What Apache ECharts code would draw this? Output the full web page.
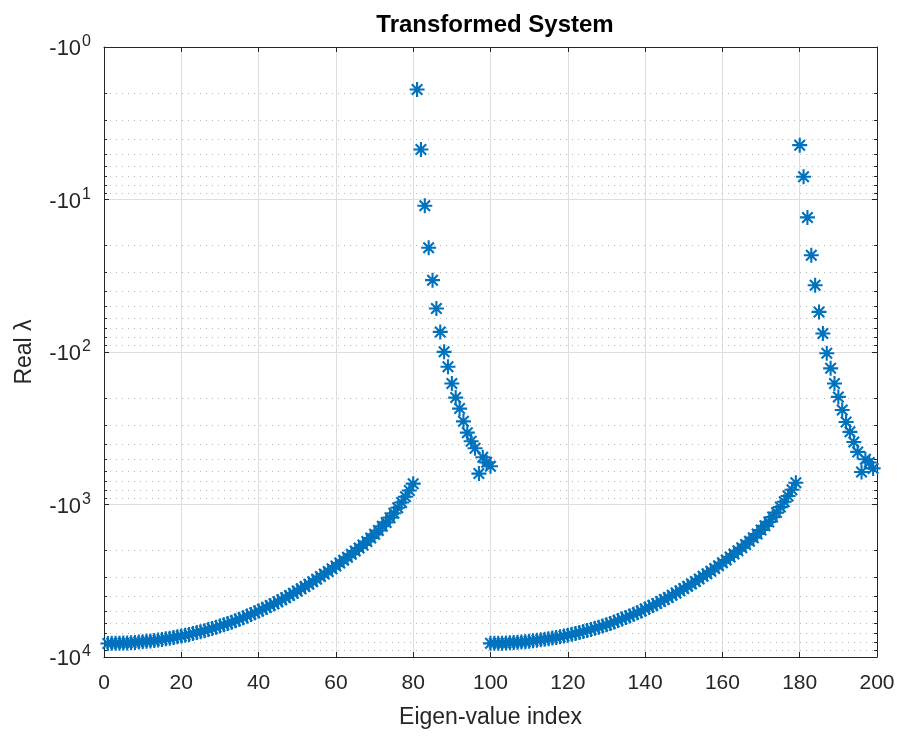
<!DOCTYPE html>
<html>
<head>
<meta charset="utf-8">
<title>Transformed System</title>
<script src="https://cdn.jsdelivr.net/npm/echarts@6/dist/echarts.min.js"></script>
<style>
  html, body { margin: 0; padding: 0; background: #ffffff; }
  #chart { width: 901px; height: 741px; }
</style>
</head>
<body>
<div id="chart"></div>
<script>
// Magnitudes |Re(lambda)| of the eigenvalues, in four index blocks.
const lowAStart = 1;
const lowA = [
  8150, 8140, 8130, 8120, 8100, 8080, 8050, 8020, 7980, 7940,
  7890, 7840, 7790, 7730, 7670, 7600, 7530, 7450, 7370, 7290,
  7200, 7110, 7020, 6920, 6820, 6720, 6610, 6500, 6390, 6270,
  6150, 6030, 5910, 5780, 5650, 5520, 5390, 5260, 5130, 5000,
  4860, 4730, 4600, 4470, 4340, 4210, 4080, 3950, 3820, 3690,
  3570, 3450, 3330, 3210, 3090, 2970, 2860, 2750, 2640, 2530,
  2420, 2320, 2220, 2120, 2020, 1930, 1840, 1750, 1660, 1570,
  1480, 1390, 1310, 1220, 1140, 1050, 970, 890, 810, 730
];
const highAStart = 81;
const highA = [
  1.9, 4.7, 11.0, 20.7, 33.8, 51.8, 73.8, 99.8, 125, 161,
  199, 235, 285, 338, 385, 428, 627, 490, 529, 561
];
const lowBStart = 100;
const lowB = [
  8140, 8130, 8120, 8110, 8090, 8070, 8040, 8010, 7970, 7930,
  7880, 7830, 7780, 7720, 7660, 7590, 7520, 7440, 7360, 7280,
  7190, 7100, 7010, 6910, 6810, 6710, 6600, 6490, 6380, 6260,
  6140, 6020, 5900, 5770, 5640, 5510, 5380, 5250, 5120, 4990,
  4850, 4720, 4590, 4460, 4330, 4200, 4070, 3940, 3810, 3680,
  3560, 3440, 3320, 3200, 3080, 2960, 2850, 2740, 2630, 2520,
  2410, 2310, 2210, 2110, 2010, 1920, 1830, 1740, 1650, 1560,
  1470, 1380, 1300, 1210, 1130, 1040, 960, 880, 800, 720
];
const highBStart = 180;
const highB = [
  4.4, 7.1, 13.1, 23.2, 36.5, 54.6, 75.6, 102, 128, 161,
  197, 240, 288, 334, 389, 452, 612, 505, 530, 580
];

// Axis ticks
const xTicks = [0, 20, 40, 60, 80, 100, 120, 140, 160, 180, 200];
const yDecades = [1, 10, 100, 1000, 10000];
const yMinor = [
  2, 3, 4, 5, 6, 7, 8, 9,
  20, 30, 40, 50, 60, 70, 80, 90,
  200, 300, 400, 500, 600, 700, 800, 900,
  2000, 3000, 4000, 5000, 6000, 7000, 8000, 9000
];

const toPairs = (start, arr) => arr.map((v, i) => [start + i, v]);
const points = [].concat(
  toPairs(lowAStart, lowA),
  toPairs(highAStart, highA),
  toPairs(lowBStart, lowB),
  toPairs(highBStart, highB)
);

// Asterisk marker: '+' and 'x' bars in a 100x100 box
const asterisk = 'path://M0 43 L100 43 L100 57 L0 57 Z ' +
  'M43 0 L57 0 L57 100 L43 100 Z ' +
  'M20 10 L90 80 L80 90 L10 20 Z ' +
  'M80 10 L90 20 L20 90 L10 80 Z';

const axisColor = '#262626';
const font = 'Liberation Sans, Arial, Helvetica, sans-serif';

const chart = echarts.init(document.getElementById('chart'), null, { renderer: 'canvas' });

chart.setOption({
  backgroundColor: '#ffffff',
  animation: false,
  title: {
    text: 'Transformed System',
    left: 490,
    top: 8,
    textAlign: 'center',
    textStyle: { fontFamily: font, fontSize: 24, fontWeight: 'bold', color: '#000000' }
  },
  grid: { left: 104, right: 24, top: 47, bottom: 84, containLabel: false },
  xAxis: [
    {
      type: 'value',
      min: xTicks[0],
      max: xTicks[xTicks.length - 1],
      interval: 20,
      name: 'Eigen-value index',
      nameLocation: 'middle',
      nameGap: 49,
      nameTextStyle: { fontFamily: font, fontSize: 23, color: axisColor },
      axisLine: { show: true, onZero: false, lineStyle: { color: axisColor, width: 1 } },
      axisTick: { show: true, inside: true, length: 5, lineStyle: { color: axisColor } },
      axisLabel: { fontFamily: font, fontSize: 21, color: axisColor, margin: 16 },
      splitLine: { show: true, lineStyle: { color: '#dedede', width: 1 } }
    },
    {
      type: 'value',
      position: 'top',
      min: xTicks[0],
      max: xTicks[xTicks.length - 1],
      interval: 20,
      axisLine: { show: true, onZero: false, lineStyle: { color: axisColor, width: 1 } },
      axisTick: { show: true, inside: true, length: 5, lineStyle: { color: axisColor } },
      axisLabel: { show: false },
      splitLine: { show: false }
    }
  ],
  yAxis: [
    {
      type: 'log',
      logBase: 10,
      min: yDecades[0],
      max: yDecades[yDecades.length - 1],
      inverse: true,
      name: 'Real \u03bb',
      nameLocation: 'middle',
      nameGap: 68,
      nameRotate: 90,
      nameTextStyle: { fontFamily: font, fontSize: 23, color: axisColor },
      axisLine: { show: true, onZero: false, lineStyle: { color: axisColor, width: 1 } },
      axisTick: { show: true, inside: true, length: 5, lineStyle: { color: axisColor } },
      axisLabel: {
        fontFamily: font,
        margin: 13,
        formatter: function (v) {
          const e = Math.round(Math.log10(v));
          return '{b|-10}{s|' + e + '}';
        },
        rich: {
          b: { fontFamily: font, fontSize: 22, color: axisColor, verticalAlign: 'bottom', lineHeight: 26 },
          s: { fontFamily: font, fontSize: 16, color: axisColor, verticalAlign: 'top', lineHeight: 16, padding: [0, 0, 0, 1] }
        }
      },
      splitLine: { show: true, lineStyle: { color: '#dedede', width: 1 } }
    },
    {
      type: 'log',
      logBase: 10,
      min: yDecades[0],
      max: yDecades[yDecades.length - 1],
      inverse: true,
      position: 'right',
      axisLine: { show: true, onZero: false, lineStyle: { color: axisColor, width: 1 } },
      axisTick: { show: true, inside: true, length: 5, lineStyle: { color: axisColor } },
      axisLabel: { show: false },
      splitLine: { show: false }
    }
  ],
  series: [
    {
      // dotted minor grid with inner minor ticks on both sides
      type: 'custom',
      silent: true,
      xAxisIndex: 0,
      yAxisIndex: 0,
      z: 1,
      clip: false,
      encode: { x: 0, y: 1 },
      data: yMinor.map(v => [0, v]),
      renderItem: function (params, api) {
        const cs = params.coordSys;
        const y = Math.round(api.coord([0, api.value(1)])[1]) + 0.5;
        const x0 = cs.x, x1 = cs.x + cs.width;
        return {
          type: 'group',
          children: [
            {
              type: 'line',
              shape: { x1: x0, y1: y, x2: x1, y2: y },
              style: { stroke: '#b4b4b4', lineWidth: 1, lineDash: [1, 5] }
            },
            {
              type: 'line',
              shape: { x1: x0, y1: y, x2: x0 + 3, y2: y },
              style: { stroke: axisColor, lineWidth: 1 }
            },
            {
              type: 'line',
              shape: { x1: x1 - 3, y1: y, x2: x1, y2: y },
              style: { stroke: axisColor, lineWidth: 1 }
            }
          ]
        };
      }
    },
    {
      type: 'scatter',
      xAxisIndex: 0,
      yAxisIndex: 0,
      z: 3,
      symbol: asterisk,
      symbolSize: 15,
      itemStyle: { color: '#0072BD', opacity: 1 },
      data: points
    }
  ]
});
</script>
</body>
</html>
